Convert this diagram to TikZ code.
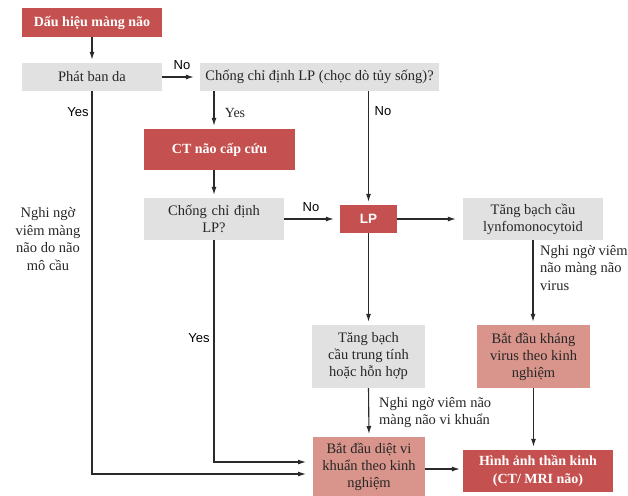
\documentclass[tikz,border=0pt]{standalone}
\usepackage{fontspec}
\setmainfont{Liberation Serif}
\newfontfamily\lsans{Liberation Sans}
\usetikzlibrary{arrows.meta,calc}
\definecolor{boxred}{HTML}{C4514F}
\definecolor{boxsalmon}{HTML}{D9958B}
\definecolor{boxgray}{HTML}{E1E1E1}
\definecolor{linegray}{HTML}{2A2A2A}
\tikzset{
  base/.style={rectangle, inner sep=2pt, align=center, font=\fontsize{14.5}{17}\selectfont},
  redbox/.style={base, fill=boxred, text=white, font=\fontsize{14}{18}\selectfont\bfseries},
  graybox/.style={base, fill=boxgray, text=black!85},
  salbox/.style={base, fill=boxsalmon, text=black!85},
  arr/.style={draw=linegray, line width=1.1pt, -{Latex[length=8pt,width=5pt]}, shorten >=3pt},
  yn/.style={font=\lsans\fontsize{13}{15}\selectfont, inner sep=0pt},
  side/.style={font=\fontsize{14.5}{17.5}\selectfont, inner sep=0pt, text=black!85}
}
\begin{document}
\begin{tikzpicture}[x=1pt,y=-1pt]
\useasboundingbox (0,0) rectangle (628,495);
\begin{scope}
\clip (0,0) rectangle (628,495);
\node[redbox, minimum width=140pt, minimum height=29pt] (b1) at (92,22.5) {Dấu hiệu màng não};
\node[graybox, minimum width=140pt, minimum height=28pt] (phat) at (92,77) {Phát ban da};
\node[graybox, minimum width=239pt, minimum height=28pt] (c1) at (319.5,77) {Chống chỉ định LP (chọc dò tủy sống)?};
\node[redbox, minimum width=151pt, minimum height=41pt] (ct) at (219.5,149.5) {CT não cấp cứu};
\node[graybox, minimum width=140pt, minimum height=42pt, text width=110pt] (c2) at (214,219) {Chống chỉ định\\LP?};
\node[redbox, minimum width=57pt, minimum height=28pt, font=\lsans\fontsize{13.5}{15}\selectfont\bfseries] (lp) at (368.5,219) {LP};
\node[graybox, minimum width=140pt, minimum height=42pt] (t1) at (533,219) {Tăng bạch cầu\\lynfomonocytoid};
\node[salbox, minimum width=113pt, minimum height=63pt] (kv) at (533.5,356.5) {Bắt đầu kháng\\virus theo kinh\\nghiệm};
\node[graybox, minimum width=113pt, minimum height=63pt] (tt) at (368.5,356.5) {Tăng bạch\\cầu trung tính\\hoặc hỗn hợp};
\node[salbox, minimum width=112pt, minimum height=60pt, anchor=north] (dk) at (369,437) {Bắt đầu diệt vi\\khuẩn theo kinh\\nghiệm};
\node[redbox, minimum width=150pt, minimum height=42pt] (ha) at (538,471) {Hình ảnh thần kinh\\(CT/ MRI não)};
\end{scope}

\coordinate (d1) at (313,462);
\coordinate (d2) at (313,474);

\draw[arr] (b1.south) -- (phat.north);
\draw[arr, shorten >=6pt] (phat.east) -- (c1.west);
\draw[arr] (c1.south -| c2) -- (ct.north -| c2);
\draw[arr] (c1.south -| lp) -- (lp.north);
\draw[arr] (ct.south -| c2) -- (c2.north);
\draw[arr, shorten >=6pt] (c2.east) -- (lp.west);
\draw[arr, shorten >=7pt] (lp.east) -- (t1.west);
\draw[arr] (t1.south) -- (kv.north -| t1);
\draw[arr] (lp.south) -- (tt.north);
\draw[arr] (tt.south) -- (dk.north);
\draw[arr] (kv.south) -- (kv.south |- ha.north);
\draw[arr] (dk.east |- 0,469) -- (ha.west |- 0,469);
\draw[arr, shorten >=7pt] (c2.south) |- (d1);
\draw[arr, shorten >=7pt] (phat.south) |- (d2);

\node[yn] (no1) at (182,65) {No};
\node[yn] (yes1) at (78,112) {Yes};
\node[side, font=\fontsize{14}{15}\selectfont] (yes2) at (235,113) {Yes};
\node[yn] (no2) at (383,111) {No};
\node[yn] (no3) at (311,207) {No};
\node[yn] (yes3) at (199,338) {Yes};
\node[side, align=center] (s1) at (48,239) {Nghi ngờ\\viêm màng\\não do não\\mô cầu};
\node[side, align=left, anchor=north west] (s2) at (540,245) {Nghi ngờ viêm\\não màng não\\virus};
\node[side, align=left, anchor=north west] (s3) at (379,397) {Nghi ngờ viêm não\\màng não vi khuẩn};
\end{tikzpicture}
\end{document}
